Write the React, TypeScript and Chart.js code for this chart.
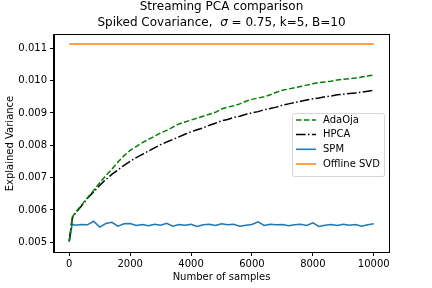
import React, { useEffect, useRef } from "react";
import { Chart, registerables } from "chart.js";

Chart.register(...registerables);

const samples = [0, 100, 200, 400, 600, 800, 1000, 1200, 1400, 1600, 1800, 2000, 2200, 2400, 2600, 2800, 3000, 3200, 3400, 3600, 3800, 4000, 4200, 4400, 4600, 4800, 5000, 5200, 5400, 5600, 5800, 6000, 6200, 6400, 6600, 6800, 7000, 7200, 7400, 7600, 7800, 8000, 8200, 8400, 8600, 8800, 9000, 9200, 9400, 9600, 9800, 10000];

const adaOja = [0.00503, 0.00578, 0.00592, 0.00615, 0.00638, 0.0066, 0.00684, 0.00706, 0.00726, 0.00748, 0.00768, 0.00784, 0.00796, 0.00808, 0.00818, 0.00828, 0.00838, 0.00846, 0.00856, 0.00866, 0.00872, 0.00878, 0.00884, 0.0089, 0.00896, 0.00902, 0.00912, 0.00918, 0.00922, 0.00928, 0.00936, 0.00942, 0.00946, 0.0095, 0.00956, 0.00964, 0.0097, 0.00974, 0.00978, 0.00982, 0.00986, 0.0099, 0.00994, 0.00996, 0.00998, 0.01002, 0.01004, 0.01006, 0.01008, 0.01011, 0.01014, 0.01017];

const hpca = [0.00503, 0.00575, 0.0059, 0.00612, 0.00636, 0.00656, 0.00676, 0.00694, 0.0071, 0.00724, 0.00738, 0.0075, 0.00762, 0.00772, 0.00782, 0.00792, 0.00802, 0.0081, 0.00818, 0.00826, 0.00834, 0.00842, 0.00848, 0.00854, 0.00862, 0.00868, 0.00876, 0.0088, 0.00886, 0.0089, 0.00896, 0.009, 0.00904, 0.0091, 0.00914, 0.00918, 0.00924, 0.00928, 0.00932, 0.00936, 0.0094, 0.00944, 0.00946, 0.0095, 0.00952, 0.00956, 0.00958, 0.0096, 0.00962, 0.00964, 0.00967, 0.0097];

const spm = [0.00503, 0.00556, 0.00553, 0.00555, 0.00554, 0.00565, 0.00547, 0.00558, 0.00562, 0.0055, 0.00557, 0.00558, 0.00552, 0.00555, 0.00551, 0.00556, 0.00553, 0.00559, 0.0055, 0.00555, 0.00553, 0.00556, 0.00549, 0.00554, 0.00556, 0.00552, 0.00557, 0.00554, 0.00556, 0.0055, 0.00553, 0.00555, 0.00563, 0.00552, 0.00556, 0.00554, 0.00555, 0.00551, 0.00554, 0.00556, 0.00552, 0.0056, 0.00549, 0.00553, 0.00555, 0.00552, 0.00556, 0.00553, 0.00555, 0.0055, 0.00554, 0.00557];

const offlineSvdValue = 0.01113;

const xTicks = [0, 2000, 4000, 6000, 8000, 10000];
const yTicks = [0.005, 0.006, 0.007, 0.008, 0.009, 0.01, 0.011];

const titleLine1 = "Streaming PCA comparison";
const xLabel = "Number of samples";
const yLabel = "Explained Variance";

const FONT = "'DejaVu Sans', sans-serif";

export default function App() {
  const ref = useRef<HTMLCanvasElement | null>(null);
  useEffect(() => {
    document.body.style.margin = "0";
    const canvas = ref.current;
    if (!canvas) return;
    Chart.defaults.font.family = FONT;
    const pts = (arr: number[]) => samples.map((s, i) => ({ x: s, y: arr[i] }));

    const decor = {
      id: "decor",
      afterDraw(chart: any) {
        const { ctx, chartArea } = chart;
        const { left, right, top, bottom } = chartArea;
        ctx.save();
        // frame
        ctx.strokeStyle = "#000";
        ctx.lineWidth = 1;
        ctx.setLineDash([]);
        ctx.strokeRect(Math.round(left) - 0.5, Math.round(top) - 0.5, Math.round(right - left) + 1, Math.round(bottom - top) + 1);

        // title
        const cx = (left + right) / 2;
        ctx.fillStyle = "#000";
        ctx.textAlign = "center";
        ctx.textBaseline = "middle";
        ctx.font = `12px ${FONT}`;
        ctx.fillText(titleLine1, cx, 6.5);
        const parts = [
          { t: "Spiked Covariance,  ", f: `12px ${FONT}` },
          { t: "σ", f: `italic 12px ${FONT}` },
          { t: " = 0.75, k=5, B=10", f: `12px ${FONT}` },
        ];
        let total = 0;
        parts.forEach((p) => { ctx.font = p.f; total += ctx.measureText(p.t).width; });
        let xx = cx - total / 2;
        ctx.textAlign = "left";
        parts.forEach((p) => { ctx.font = p.f; ctx.fillText(p.t, xx, 23); xx += ctx.measureText(p.t).width; });

        // axis titles
        ctx.font = `10px ${FONT}`;
        ctx.textAlign = "center";
        ctx.fillText(xLabel, cx, 277);
        ctx.save();
        ctx.translate(10, (top + bottom) / 2);
        ctx.rotate(-Math.PI / 2);
        ctx.fillText(yLabel, 0, 0);
        ctx.restore();

        // legend
        const bx = 292, by = 113, bw = 92, bh = 63;
        ctx.globalAlpha = 0.8;
        ctx.fillStyle = "#fff";
        ctx.strokeStyle = "#ccc";
        ctx.lineWidth = 1;
        ctx.beginPath();
        if ((ctx as any).roundRect) (ctx as any).roundRect(bx + 0.5, by + 0.5, bw, bh, 2);
        else ctx.rect(bx + 0.5, by + 0.5, bw, bh);
        ctx.fill();
        ctx.stroke();
        ctx.globalAlpha = 1;
        const rows = [120, 134.5, 149.3, 164];
        chart.data.datasets.forEach((ds: any, i: number) => {
          const y = rows[i];
          ctx.strokeStyle = ds.borderColor;
          ctx.lineWidth = ds.borderWidth;
          ctx.setLineDash(ds.borderDash || []);
          ctx.beginPath();
          ctx.moveTo(296, y);
          ctx.lineTo(316, y);
          ctx.stroke();
          ctx.setLineDash([]);
          ctx.fillStyle = "#000";
          ctx.font = `10px ${FONT}`;
          ctx.textAlign = "left";
          ctx.fillText(ds.label, 323, y);
        });
        ctx.restore();
      },
    };

    const chart = new Chart(canvas, {
      type: "line",
      data: {
        datasets: [
          { label: "AdaOja", data: pts(adaOja), borderColor: "#008000", borderWidth: 1.5, borderDash: [5.5, 2.4], pointRadius: 0, fill: false },
          { label: "HPCA", data: pts(hpca), borderColor: "#000000", borderWidth: 1.5, borderDash: [9.6, 2.4, 1.5, 2.4], pointRadius: 0, fill: false },
          { label: "SPM", data: pts(spm), borderColor: "#1f77b4", borderWidth: 1.5, pointRadius: 0, fill: false },
          { label: "Offline SVD", data: samples.map((s) => ({ x: s, y: offlineSvdValue })), borderColor: "#ff7f0e", borderWidth: 1.5, pointRadius: 0, fill: false },
        ],
      },
      options: {
        responsive: false,
        animation: false,
        layout: { padding: { left: 0, right: 43, top: 35, bottom: 0 } },
        plugins: { legend: { display: false }, title: { display: false }, tooltip: { enabled: false } },
        scales: {
          x: {
            type: "linear",
            min: -500,
            max: 10500,
            afterFit: (s: any) => { s.height = 36; },
            afterBuildTicks: (s: any) => { s.ticks = xTicks.map((v) => ({ value: v })); },
            grid: { drawOnChartArea: false, drawTicks: true, tickLength: 4, color: "#000" },
            border: { display: true, color: "#000" },
            ticks: { color: "#000", font: { size: 10, family: FONT }, padding: 2, maxRotation: 0, callback: (v: any) => String(v) },
          },
          y: {
            type: "linear",
            min: 0.0047,
            max: 0.01141,
            afterFit: (s: any) => { s.width = 54; },
            afterBuildTicks: (s: any) => { s.ticks = yTicks.map((v) => ({ value: v })); },
            grid: { drawOnChartArea: false, drawTicks: true, tickLength: 4, color: "#000" },
            border: { display: true, color: "#000" },
            ticks: { color: "#000", font: { size: 10, family: FONT }, padding: 3, callback: (v: any) => Number(v).toFixed(3) },
          },
        },
      },
      plugins: [decor],
    });
    return () => chart.destroy();
  }, []);
  return (
    <div style={{ width: 432, height: 288, position: "relative" }}>
      <canvas ref={ref} width={432} height={288} style={{ display: "block" }} />
    </div>
  );
}
